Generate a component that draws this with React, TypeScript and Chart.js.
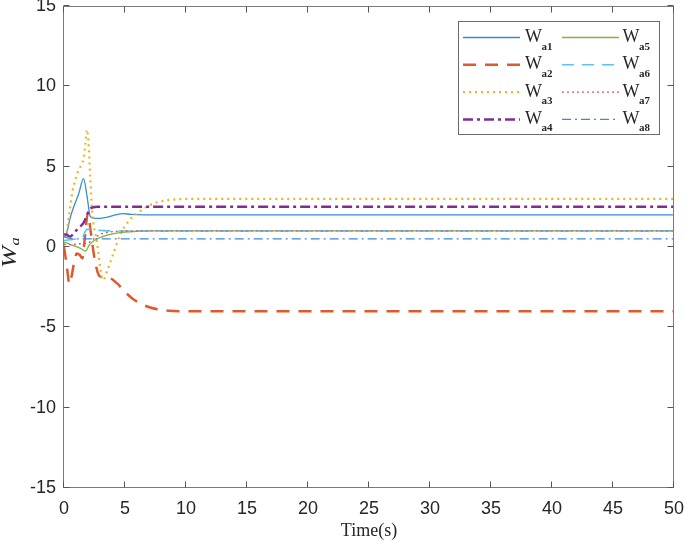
import React, { useEffect, useRef } from 'react';
import { Chart, registerables } from 'chart.js';

Chart.register(...registerables);

// ---------- data ----------
const X_TICKS = [0, 5, 10, 15, 20, 25, 30, 35, 40, 45, 50];
const Y_TICKS = [-15, -10, -5, 0, 5, 10, 15];

const LEGEND_MAIN = 'W';
const LEGEND_SUBS = ['a1', 'a2', 'a3', 'a4', 'a5', 'a6', 'a7', 'a8'];
const X_TITLE = 'Time(s)';
const Y_TITLE_MAIN = 'W';
const Y_TITLE_SUB = 'a';

const T1 = [0, 0.2, 0.5, 0.8, 1.2, 1.6, 1.9, 2.15, 2.4, 2.9, 3.5, 4.2, 4.8, 5.5, 6.5, 50];
const V1 = [0.6, 0.8, 1.8, 2.5, 3.3, 4.25, 3.1, 1.9, 1.8, 1.78, 1.85, 2.0, 2.08, 2.03, 2.0, 2.0];

const T2 = [0, 0.2, 0.45, 0.6, 0.8, 1.05, 1.3, 1.5, 1.7, 1.95, 2.2, 2.5, 2.9, 3.3, 3.8, 4.4, 5.0, 5.6, 6.2, 7.0, 8.0, 9.0, 10.5, 50];
const V2 = [0, -1.0, -2.3, -1.9, -1.1, -0.4, -0.5, -0.7, 0.5, 2.1, 0.9, -0.7, -1.8, -1.9, -1.95, -2.3, -2.8, -3.2, -3.5, -3.75, -3.92, -3.98, -4.0, -4.0];

const T3 = [0, 0.2, 0.4, 0.55, 0.7, 0.9, 1.15, 1.35, 1.6, 1.75, 1.88, 2.0, 2.15, 2.3, 2.7, 3.2, 3.6, 4.05, 4.6, 5.4, 6.2, 7.0, 8.0, 9.5, 11, 50];
const V3 = [0.2, 0.8, 1.9, 2.7, 3.5, 4.1, 4.7, 5.0, 5.5, 6.4, 7.3, 6.6, 4.4, 2.3, 0.3, -2.05, -1.35, -0.4, 0.75, 1.7, 2.2, 2.6, 2.85, 2.98, 3.0, 3.0];

const T4 = [0, 0.25, 0.5, 0.9, 1.3, 1.6, 1.85, 2.05, 2.3, 2.8, 50];
const V4 = [0.8, 0.75, 0.65, 0.95, 1.25, 1.5, 1.9, 2.3, 2.45, 2.5, 2.5];

const T5 = [0, 0.4, 0.9, 1.4, 1.75, 2.1, 2.5, 3.0, 3.6, 4.2, 5.0, 6.0, 7.0, 50];
const V5 = [0.3, 0.2, 0.05, -0.1, -0.25, 0.15, 0.42, 0.6, 0.75, 0.85, 0.93, 0.98, 1.0, 1.0];

const T6 = [0, 0.5, 1.0, 1.5, 1.7, 1.9, 2.2, 2.6, 3.2, 4.0, 50];
const V6 = [0.4, 0.45, 0.5, 0.55, 0.9, 1.1, 1.1, 1.05, 1.02, 1.0, 1.0];

const T7 = [0, 0.6, 1.2, 1.8, 2.1, 2.5, 3.0, 3.6, 4.5, 5.5, 50];
const V7 = [0.15, 0.15, 0.2, 0.22, 0.3, 0.55, 0.8, 0.92, 0.98, 1.0, 1.0];

const T8 = [0, 0.4, 1.0, 2.0, 50];
const V8 = [0.65, 0.55, 0.5, 0.5, 0.5];

const SERIES_T = [T1, T2, T3, T4, T5, T6, T7, T8];
const SERIES_V = [V1, V2, V3, V4, V5, V6, V7, V8];

// ---------- styles ----------
const STYLES = [
  { color: '#3a8bd6', width: 1.3, dash: [] as number[] },
  { color: '#e0592a', width: 2.5, dash: [13, 9] },
  { color: '#efb425', width: 2.2, dash: [2, 4] },
  { color: '#7e2f8e', width: 2.5, dash: [10, 4, 3, 4] },
  { color: '#7fb33f', width: 1.3, dash: [] as number[] },
  { color: '#5cc3ef', width: 1.6, dash: [12, 8] },
  { color: '#c25b72', width: 1.3, dash: [2, 3] },
  { color: '#3a8bd6', width: 1.3, dash: [9, 4, 2, 4] },
];

const AXIS_COLOR = '#7a7a7a';
const TEXT_COLOR = '#262626';

const matlabPlugin = {
  id: 'matlabDecor',
  afterDatasetsDraw(chart: any) {
    const { ctx, chartArea: a, scales } = chart;
    const xs = scales.x;
    const ys = scales.y;
    ctx.save();
    // box
    ctx.strokeStyle = AXIS_COLOR;
    ctx.lineWidth = 1;
    ctx.setLineDash([]);
    const L = Math.round(a.left) - 0.5;
    const R = Math.round(a.right) - 0.5;
    const Tp = Math.round(a.top) + 0.5;
    const B = Math.round(a.bottom) - 0.5;
    ctx.strokeRect(L, Tp, R - L, B - Tp);
    // inward ticks
    const tl = 6;
    ctx.strokeStyle = '#555';
    ctx.beginPath();
    X_TICKS.forEach((v) => {
      const px = Math.round(xs.getPixelForValue(v)) - 0.5;
      ctx.moveTo(px, B);
      ctx.lineTo(px, B - tl);
      ctx.moveTo(px, Tp);
      ctx.lineTo(px, Tp + tl);
    });
    Y_TICKS.forEach((v) => {
      const py = Math.round(ys.getPixelForValue(v)) - 0.5;
      ctx.moveTo(L, py);
      ctx.lineTo(L + tl, py);
      ctx.moveTo(R, py);
      ctx.lineTo(R - tl, py);
    });
    ctx.stroke();

    // legend
    const bx = 458.5, by = 21.5, bw = 201, bh = 113;
    ctx.fillStyle = '#ffffff';
    ctx.fillRect(bx, by, bw, bh);
    ctx.strokeStyle = '#6a6a6a';
    ctx.lineWidth = 1;
    ctx.strokeRect(bx, by, bw, bh);
    const colLine = [463, 562];
    const colText = [525, 622.5];
    chart.data.datasets.forEach((ds: any, i: number) => {
      const col = i < 4 ? 0 : 1;
      const row = i % 4;
      const ly = 37.5 + row * 27.3;
      ctx.strokeStyle = ds.borderColor;
      ctx.lineWidth = ds.borderWidth;
      ctx.setLineDash(ds.borderDash || []);
      ctx.beginPath();
      ctx.moveTo(colLine[col], ly);
      ctx.lineTo(colLine[col] + 57, ly);
      ctx.stroke();
      ctx.setLineDash([]);
      ctx.fillStyle = TEXT_COLOR;
      ctx.textAlign = 'left';
      ctx.textBaseline = 'alphabetic';
      ctx.font = '18px "Liberation Serif"';
      ctx.fillText(LEGEND_MAIN, colText[col], ly + 4.5);
      ctx.font = 'bold 11px "Liberation Serif"';
      ctx.fillText(LEGEND_SUBS[i], colText[col] + 16.5, ly + 12);
    });

    // x title
    ctx.fillStyle = TEXT_COLOR;
    ctx.font = '18px "Liberation Serif"';
    ctx.textAlign = 'center';
    ctx.textBaseline = 'alphabetic';
    ctx.fillText(X_TITLE, (a.left + a.right) / 2, 536);

    // y title (rotated)
    ctx.save();
    ctx.translate(16, 268);
    ctx.rotate(-Math.PI / 2);
    ctx.scale(1.25, 1);
    ctx.font = 'italic 21px "Liberation Serif"';
    ctx.textAlign = 'left';
    ctx.fillText(Y_TITLE_MAIN, 0, 0);
    const w = ctx.measureText(Y_TITLE_MAIN).width;
    ctx.font = 'italic 13px "Liberation Serif"';
    ctx.fillText(Y_TITLE_SUB, w + 0.5, 3);
    ctx.restore();

    ctx.restore();
  },
};

export default function App() {
  const ref = useRef<HTMLCanvasElement | null>(null);
  useEffect(() => {
    if (!ref.current) return;
    const datasets = SERIES_T.map((ts, i) => ({
      label: LEGEND_MAIN + LEGEND_SUBS[i],
      data: ts.map((t, j) => ({ x: t, y: SERIES_V[i][j] })),
      borderColor: STYLES[i].color,
      backgroundColor: STYLES[i].color,
      borderWidth: STYLES[i].width,
      borderDash: STYLES[i].dash,
      borderCapStyle: 'butt',
      pointRadius: 0,
      fill: false,
      cubicInterpolationMode: 'monotone',
      order: 7 - i,
    }));
    const chart = new Chart(ref.current, {
      type: 'line',
      data: { datasets } as any,
      plugins: [matlabPlugin],
      options: {
        animation: false,
        responsive: false,
        devicePixelRatio: 1,
        layout: { padding: { top: 6, right: 11, left: 0, bottom: 0 } },
        plugins: { legend: { display: false }, tooltip: { enabled: false } },
        scales: {
          x: {
            type: 'linear',
            min: 0,
            max: 50,
            grid: { display: false, drawTicks: false },
            border: { display: false },
            ticks: {
              stepSize: 5,
              autoSkip: false,
              maxRotation: 0,
              padding: 10,
              color: TEXT_COLOR,
              font: { family: '"Liberation Sans"', size: 18 },
            },
            afterFit: (s: any) => {
              s.height = 53;
              s.paddingLeft = 0;
              s.paddingRight = 0;
            },
          },
          y: {
            type: 'linear',
            min: -15,
            max: 15,
            grid: { display: false, drawTicks: false },
            border: { display: false },
            ticks: {
              stepSize: 5,
              padding: 8,
              color: TEXT_COLOR,
              font: { family: '"Liberation Sans"', size: 18 },
            },
            afterFit: (s: any) => {
              s.width = 64;
              s.paddingTop = 0;
              s.paddingBottom = 0;
            },
          },
        },
      } as any,
    });
    return () => chart.destroy();
  }, []);
  return (
    <div style={{ position: 'fixed', left: 0, top: 0, width: 685, height: 541, background: '#fff' }}>
      <canvas ref={ref} width={685} height={541} style={{ display: 'block' }} />
    </div>
  );
}
